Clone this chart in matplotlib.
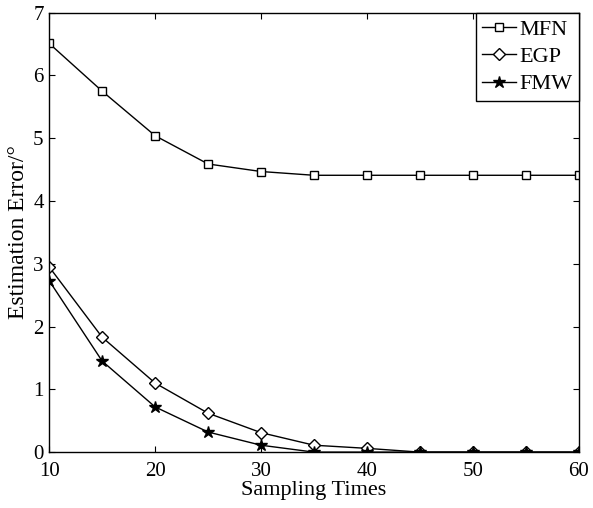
import matplotlib
matplotlib.use('Agg')
import matplotlib.pyplot as plt

# Data
times = [10, 15, 20, 25, 30, 35, 40, 45, 50, 55, 60]
mfn = [6.51, 5.75, 5.04, 4.59, 4.47, 4.41, 4.41, 4.41, 4.41, 4.41, 4.41]
egp = [2.95, 1.83, 1.10, 0.62, 0.31, 0.11, 0.06, 0.0, 0.0, 0.0, 0.0]
fmw = [2.73, 1.45, 0.72, 0.32, 0.11, 0.0, 0.0, 0.0, 0.0, 0.0, 0.0]

plt.rcParams['font.family'] = ['Liberation Serif', 'DejaVu Serif']
plt.rcParams['font.size'] = 15

fig = plt.figure(figsize=(5.93, 5.08), dpi=100)
ax = fig.add_axes([0.083, 0.110, 0.893, 0.865])

ax.plot(times, mfn, color='black', lw=1.0, marker='s', markersize=6,
        markerfacecolor='white', markeredgecolor='black', label='MFN')
ax.plot(times, egp, color='black', lw=1.0, marker='D', markersize=6,
        markerfacecolor='white', markeredgecolor='black', label='EGP')
ax.plot(times, fmw, color='black', lw=1.0, marker='*', markersize=9,
        markerfacecolor='black', markeredgecolor='black', label='FMW')

ax.set_xlim(10, 60)
ax.set_ylim(0, 7)
ax.set_xticks([10, 20, 30, 40, 50, 60])
ax.set_yticks(range(0, 8))
ax.tick_params(direction='in', top=True, right=True, length=4, width=0.8)
ax.tick_params(axis='x', pad=7)
ax.tick_params(axis='y', pad=4)
for s in ax.spines.values():
    s.set_linewidth(1.0)

ax.set_xlabel('Sampling Times', fontsize=16, labelpad=0)
ax.set_ylabel('Estimation Error/\u00b0', fontsize=17, labelpad=3)

leg = ax.legend(loc='upper right', fancybox=False, edgecolor='black',
                borderaxespad=0, handlelength=1.5, handletextpad=0.15,
                borderpad=0.3, labelspacing=0.3, framealpha=1,
                fontsize=16)
leg.get_frame().set_linewidth(1.0)

fig.savefig('out.png', dpi=100)
